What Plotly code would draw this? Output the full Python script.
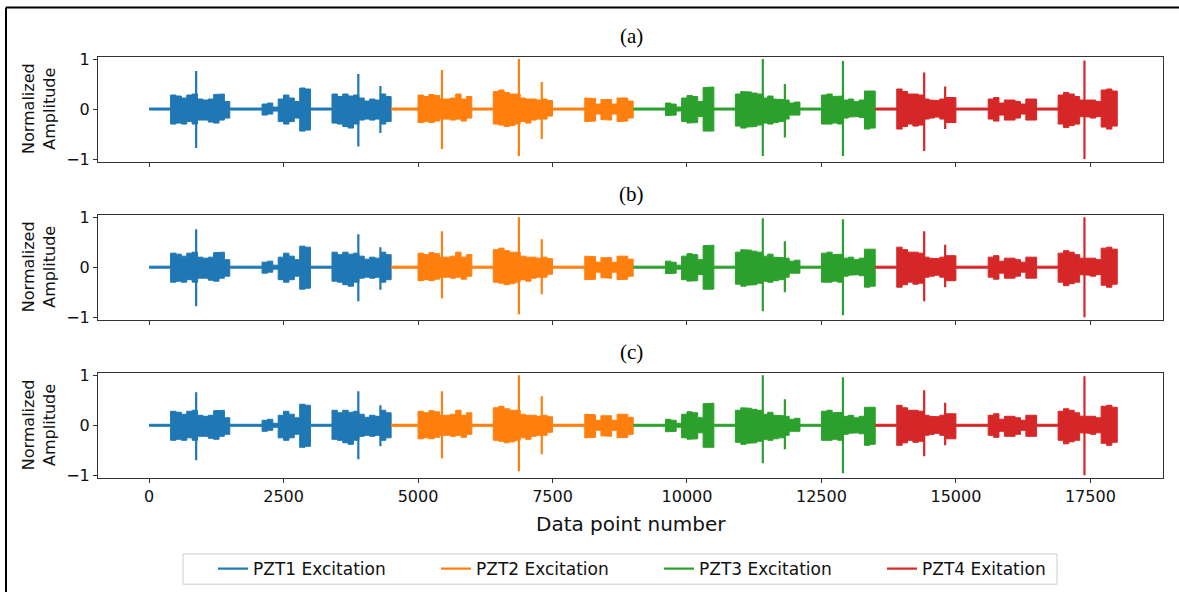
import numpy as np
import plotly.graph_objects as go

# ---------------- data ----------------
STEP = 100              # envelope bin width, in data points
CH_LEN = 4500           # samples per excitation channel
channels = ["PZT1 Excitation", "PZT2 Excitation", "PZT3 Excitation", "PZT4 Exitation"]
colors = ["#1f77b4", "#ff7f0e", "#2ca02c", "#d62728"]
panel_titles = ["(a)", "(b)", "(c)"]
x_ticks = [0, 2500, 5000, 7500, 10000, 12500, 15000, 17500]
y_ticks = [-1, 0, 1]

F = 0.02  # quiet baseline half-width

# upper / lower envelope per 100-point bin (45 bins per channel)
pzt1_up = [F, F, F, F, 0.28, 0.26, 0.22, 0.28, 0.30, 0.20,
           0.18, 0.20, 0.29, 0.30, 0.15, F, F, F, F, F,
           F, 0.10, 0.12, 0.04, 0.20, 0.28, 0.22, 0.15, 0.42, 0.40,
           F, F, F, F, 0.30, 0.25, 0.30, 0.26, 0.28, 0.22,
           0.16, 0.20, 0.18, 0.30, 0.25]
pzt1_lo = [-F, -F, -F, -F, -0.30, -0.28, -0.30, -0.25, -0.30, -0.22,
           -0.22, -0.26, -0.28, -0.22, -0.18, -F, -F, -F, -F, -F,
           -F, -0.12, -0.10, -0.04, -0.25, -0.30, -0.25, -0.18, -0.44, -0.42,
           -F, -F, -F, -F, -0.28, -0.30, -0.35, -0.38, -0.30, -0.22,
           -0.20, -0.22, -0.20, -0.30, -0.25]

pzt2_up = [F, F, F, F, F, 0.28, 0.25, 0.29, 0.27, 0.20,
           0.20, 0.22, 0.30, 0.20, 0.25, F, F, F, F, 0.35,
           0.38, 0.33, 0.30, 0.30, 0.22, 0.20, 0.20, 0.18, 0.20, 0.17,
           F, F, F, F, F, F, 0.22, 0.21, 0.10, 0.19,
           0.19, 0.10, 0.22, 0.22, 0.16]
pzt2_lo = [-F, -F, -F, -F, -F, -0.27, -0.25, -0.27, -0.24, -0.20,
           -0.20, -0.22, -0.20, -0.24, -0.18, -F, -F, -F, -F, -0.30,
           -0.32, -0.35, -0.33, -0.30, -0.25, -0.28, -0.22, -0.20, -0.20, -0.14,
           -F, -F, -F, -F, -F, -F, -0.25, -0.24, -0.10, -0.21,
           -0.22, -0.10, -0.25, -0.24, -0.18]

pzt3_up = [F, F, F, F, F, F, 0.12, 0.10, 0.04, 0.22,
           0.27, 0.25, 0.15, 0.43, 0.44, F, F, F, F, 0.30,
           0.35, 0.34, 0.32, 0.30, 0.22, 0.26, 0.20, 0.19, 0.18, 0.12,
           0.14, F, F, F, F, 0.28, 0.30, 0.25, 0.26, 0.18,
           0.20, 0.15, 0.18, 0.36, 0.36]
pzt3_lo = [-F, -F, -F, -F, -F, -F, -0.13, -0.12, -0.04, -0.25,
           -0.28, -0.27, -0.15, -0.44, -0.44, -F, -F, -F, -F, -0.34,
           -0.38, -0.36, -0.35, -0.32, -0.28, -0.30, -0.27, -0.25, -0.20, -0.12,
           -0.12, -F, -F, -F, -F, -0.30, -0.30, -0.28, -0.30, -0.18,
           -0.16, -0.15, -0.17, -0.40, -0.38]

pzt4_up = [F, F, F, F, 0.40, 0.35, 0.30, 0.30, 0.28, 0.20,
           0.18, 0.17, 0.20, 0.23, 0.23, F, F, F, F, F,
           F, 0.20, 0.23, 0.12, 0.18, 0.18, 0.15, 0.10, 0.20, 0.20,
           F, F, F, F, 0.28, 0.33, 0.30, 0.25, 0.18, 0.17,
           0.18, 0.15, 0.38, 0.40, 0.36]
pzt4_lo = [-F, -F, -F, -F, -0.40, -0.35, -0.30, -0.34, -0.32, -0.20,
           -0.18, -0.16, -0.20, -0.27, -0.27, -F, -F, -F, -F, -F,
           -F, -0.20, -0.24, -0.12, -0.22, -0.22, -0.18, -0.10, -0.22, -0.22,
           -F, -F, -F, -F, -0.30, -0.37, -0.33, -0.30, -0.15, -0.16,
           -0.18, -0.15, -0.36, -0.40, -0.34]

uppers = [pzt1_up, pzt2_up, pzt3_up, pzt4_up]
lowers = [pzt1_lo, pzt2_lo, pzt3_lo, pzt4_lo]

# isolated spikes: positions (data point number) per channel
spike_pos = [[875, 3890, 4300], [5445, 6875, 7300], [11410, 11820, 12900], [14410, 14800, 17390]]
# spike (top, bottom) per panel, per channel
spikes_a = [[(0.76, -0.78), (0.70, -0.75), (0.46, -0.48)],
            [(0.78, -0.80), (1.00, -0.94), (0.54, -0.60)],
            [(1.00, -0.94), (0.50, -0.57), (0.96, -0.94)],
            [(0.73, -0.84), (0.45, -0.40), (0.97, -1.00)]]
spikes_b = [[(0.76, -0.78), (0.66, -0.68), (0.40, -0.45)],
            [(0.72, -0.62), (1.00, -0.94), (0.56, -0.54)],
            [(0.98, -0.88), (0.52, -0.50), (0.96, -0.96)],
            [(0.72, -0.68), (0.45, -0.40), (1.00, -1.00)]]
spikes_c = [[(0.66, -0.70), (0.68, -0.68), (0.40, -0.42)],
            [(0.68, -0.66), (1.00, -0.92), (0.58, -0.58)],
            [(1.00, -0.76), (0.52, -0.48), (0.96, -0.96)],
            [(0.70, -0.62), (0.45, -0.40), (0.98, -1.00)]]
panel_spikes = [spikes_a, spikes_b, spikes_c]

# ---------------- layout geometry ----------------
W, H = 1179, 599
def fx(px): return px / W
def fy(py): return 1 - py / H

x_dom = [fx(98), fx(1163)]
y_doms = [[fy(158.3), fy(50.7)], [fy(320.2), fy(212.6)], [fy(482.1), fy(374.5)]]
title_y = [30, 191.5, 353.5]


def band(start, up, lo):
    n = len(up)
    left = start + STEP * np.arange(n)
    right = left + STEP
    xu = np.column_stack([left, right]).ravel()
    yu = np.repeat(np.asarray(up, float), 2)
    yl = np.repeat(np.asarray(lo, float), 2)
    return np.concatenate([xu, xu[::-1]]), np.concatenate([yu, yl[::-1]])


fig = go.Figure()

for p in range(3):
    xa = "x" if p == 0 else f"x{p+1}"
    ya = "y" if p == 0 else f"y{p+1}"
    for c in range(4):
        start = c * CH_LEN
        bx, by = band(start, uppers[c], lowers[c])
        fig.add_trace(go.Scatter(
            x=bx, y=by, mode="lines", fill="toself", fillcolor=colors[c],
            line=dict(color=colors[c], width=1), showlegend=False,
            hoverinfo="skip", xaxis=xa, yaxis=ya))
        sx, sy = [], []
        for pos, (top, bot) in zip(spike_pos[c], panel_spikes[p][c]):
            sx += [pos, pos, None]
            sy += [top, bot, None]
        fig.add_trace(go.Scatter(
            x=sx, y=sy, mode="lines", line=dict(color=colors[c], width=2.2),
            name=channels[c], showlegend=(p == 0), legendrank=c + 1,
            hoverinfo="skip", xaxis=xa, yaxis=ya))

axis_common = dict(showline=True, linecolor="#333", linewidth=1, mirror=True,
                   ticks="outside", ticklen=4, tickcolor="#333", showgrid=False,
                   zeroline=False,
                   tickfont=dict(family="DejaVu Sans", size=16, color="#111"))

layout = dict(
    width=W, height=H, margin=dict(l=0, r=0, t=0, b=0),
    paper_bgcolor="white", plot_bgcolor="white", showlegend=True,
    legend=dict(orientation="h", x=fx(213), xanchor="left", y=fy(575.5), yanchor="middle",
                bgcolor="rgba(0,0,0,0)", borderwidth=0,
                font=dict(family="DejaVu Sans", size=17, color="#111"),
                entrywidth=178, entrywidthmode="pixels", traceorder="normal"),
)
for p in range(3):
    xk = "xaxis" if p == 0 else f"xaxis{p+1}"
    yk = "yaxis" if p == 0 else f"yaxis{p+1}"
    layout[xk] = dict(axis_common, domain=x_dom, range=[-950, 18850],
                      tickvals=x_ticks, ticktext=[str(v) for v in x_ticks],
                      showticklabels=(p == 2), anchor=("y" if p == 0 else f"y{p+1}"))
    if p > 0:
        layout[xk]["matches"] = "x"
    layout[yk] = dict(axis_common, domain=y_doms[p], range=[-1.05, 1.05],
                      tickvals=y_ticks, ticktext=["\u22121", "0", "1"],
                      anchor=("x" if p == 0 else f"x{p+1}"))
fig.update_layout(**layout)

ann = []
for p in range(3):
    ann.append(dict(text=panel_titles[p], x=fx(631), y=fy(title_y[p]), xref="paper", yref="paper",
                    showarrow=False, xanchor="center", yanchor="middle",
                    font=dict(family="Liberation Serif", size=21, color="black")))
    ymid = (y_doms[p][0] + y_doms[p][1]) / 2
    ann.append(dict(text="Normalized<br>Amplitude", x=fx(39), y=ymid, xref="paper", yref="paper",
                    showarrow=False, textangle=-90, xanchor="center", yanchor="middle",
                    font=dict(family="DejaVu Sans", size=16, color="#111")))
ann.append(dict(text="Data point number", x=fx(631), y=fy(529.5), xref="paper", yref="paper",
                showarrow=False, xanchor="center", yanchor="middle",
                font=dict(family="DejaVu Sans", size=20, color="#111")))
fig.update_layout(annotations=ann)

fig.update_layout(shapes=[
    # outer frame of the figure (top and left edges visible)
    dict(type="line", xref="paper", yref="paper", x0=fx(6), x1=1, y0=fy(0.5), y1=fy(0.5),
         line=dict(color="black", width=2)),
    dict(type="line", xref="paper", yref="paper", x0=fx(6), x1=fx(6), y0=fy(0.5), y1=0,
         line=dict(color="black", width=2)),
    # legend frame
    dict(type="rect", xref="paper", yref="paper", x0=fx(183), x1=fx(1057), y0=fy(591), y1=fy(560),
         line=dict(color="#cccccc", width=1), fillcolor="white", layer="below"),
])

# pin the plot to the page's top-left corner (no default body margin)
pin = ("document.documentElement.style.overflow='hidden';"
       "document.body.style.margin='0';document.body.style.overflow='hidden';"
       "var d=document.getElementById('{plot_id}');"
       "d.style.position='absolute';d.style.left='0px';d.style.top='0px';")
fig.write_html("out.html", post_script=pin, config={"displayModeBar": False})
